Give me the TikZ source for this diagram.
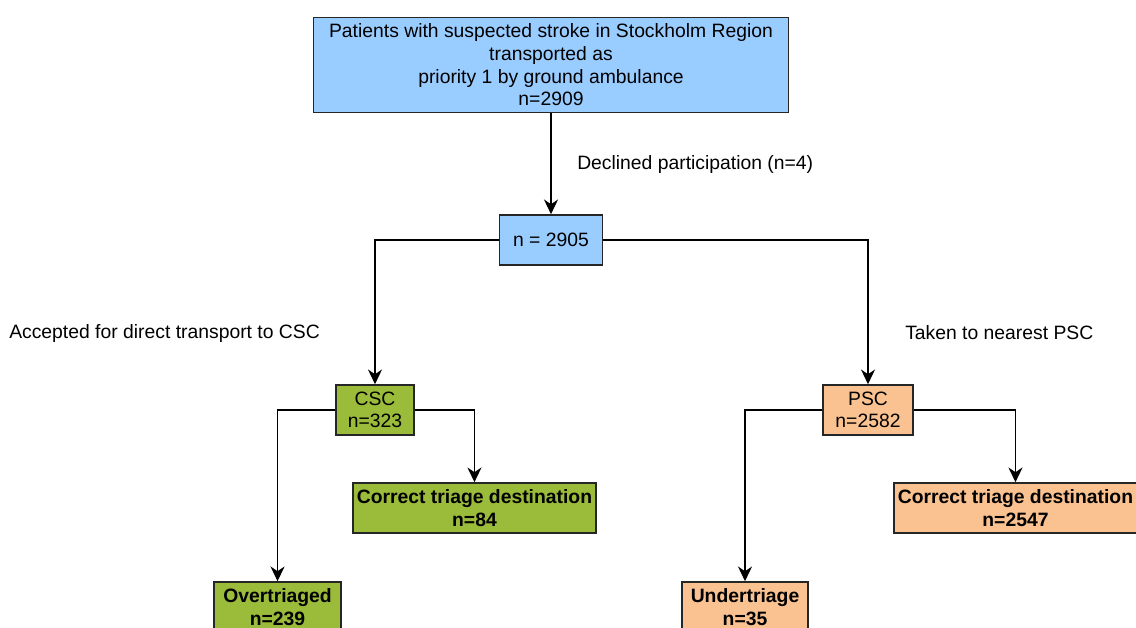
\documentclass[tikz,border=0pt]{standalone}
\usepackage{fontspec}
\setmainfont{Liberation Sans}
\usepackage{xcolor}
\usetikzlibrary{positioning,arrows.meta}

\definecolor{boxblue}{HTML}{99CCFF}
\definecolor{boxgreen}{HTML}{9BBB3A}
\definecolor{boxorange}{HTML}{FAC191}

\begin{document}
\begin{tikzpicture}[on grid,
   font=\fontsize{14.5}{17}\selectfont,
   box/.style={draw=black!85,line width=1.2pt,inner sep=0pt,align=center,minimum height=37.5pt},
   lbl/.style={anchor=west,inner sep=0pt},
   flow/.style={line width=1.2pt,-{Stealth[length=11pt,width=10.5pt,inset=3.5pt]}}]
   \useasboundingbox (0,0) rectangle (852pt,-471pt);
   \clip (0,0) rectangle (852pt,-471pt);
   \node[box,fill=boxblue,minimum width=356pt,minimum height=71.25pt] (n_top) at (413.25pt,-48.75pt)
      {Patients with suspected stroke in Stockholm Region\\transported as\\priority 1 by ground ambulance\\n=2909};
   \node[box,fill=boxblue,minimum width=77.25pt] (n_all) [below=131.25pt of n_top] {n = 2905};
   \node[box,fill=boxgreen,minimum width=58.5pt] (csc) [below left=127.5pt and 132pt of n_all] {CSC\\n=323};
   \node[box,fill=boxorange,minimum width=67.5pt] (psc) [below right=127.5pt and 237.75pt of n_all] {PSC\\n=2582};
   \node[box,fill=boxgreen,minimum width=182.25pt,font=\fontsize{14.5}{17}\selectfont\bfseries] (csc_ok) [below right=73.5pt and 74.6pt of csc] {Correct triage destination\\n=84};
   \node[box,fill=boxgreen,minimum width=95.25pt,font=\fontsize{14.5}{17}\selectfont\bfseries] (csc_over) [below left=147.75pt and 73.1pt of csc] {Overtriaged\\n=239};
   \node[box,fill=boxorange,minimum width=182.25pt,font=\fontsize{14.5}{17}\selectfont\bfseries] (psc_ok) [below right=73.5pt and 110.6pt of psc] {Correct triage destination\\n=2547};
   \node[box,fill=boxorange,minimum width=94.5pt,font=\fontsize{14.5}{17}\selectfont\bfseries] (psc_under) [below left=147.75pt and 92.25pt of psc] {Undertriage\\n=35};
   \node[lbl] (l_declined) at (432.75pt,-123.75pt) {Declined participation (n=4)};
   \node[lbl] (l_csc) at (6.75pt,-249.75pt) {Accepted for direct transport to CSC};
   \node[lbl] (l_psc) at (678.75pt,-249.75pt) {Taken to nearest PSC};
    \draw[flow] (n_top) -- (n_all);
    \draw[flow] (n_all.west) -| (csc.north);
    \draw[flow] (n_all.east) -| (psc.north);
    \draw[flow] (csc.west) -| (csc_over.north);
    \draw[flow] (csc.east) -| (csc_ok.north);
    \draw[flow] (psc.west) -| (psc_under.north);
    \draw[flow] (psc.east) -| (psc_ok.north);
\end{tikzpicture}
\end{document}
